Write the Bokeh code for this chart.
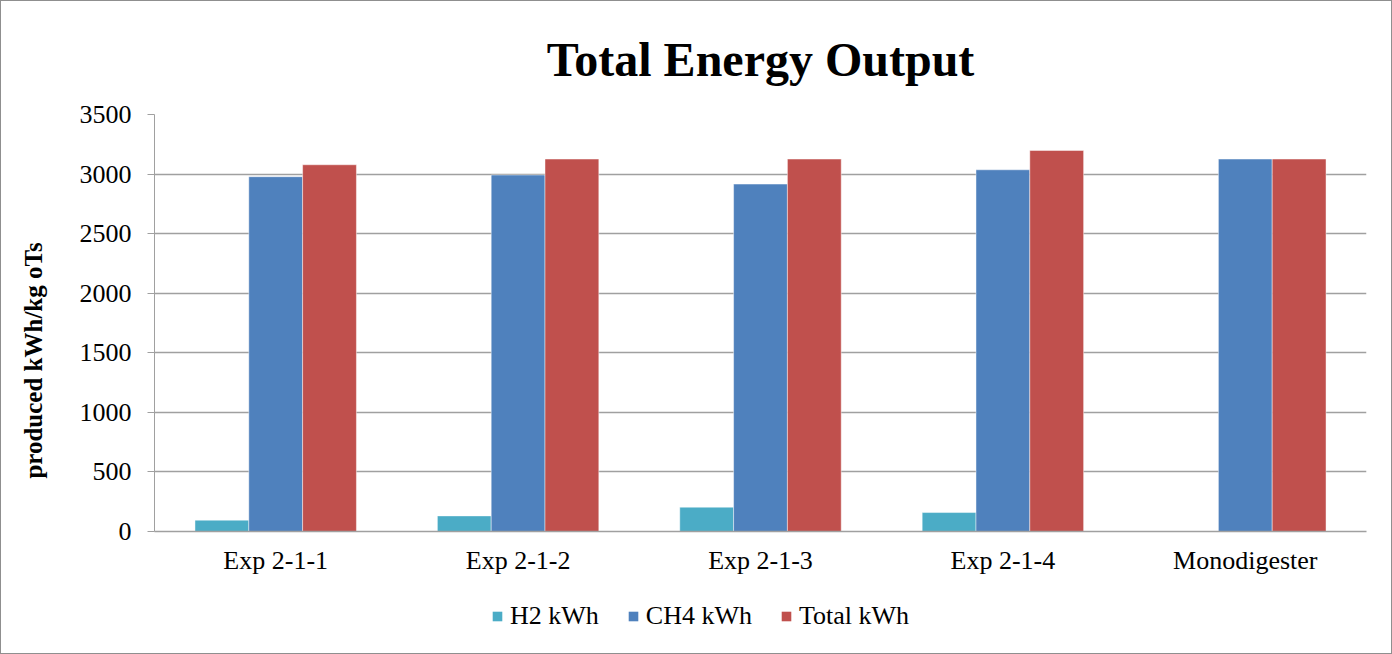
from bokeh.plotting import figure
from bokeh.layouts import column
from bokeh.models import ColumnDataSource, FactorRange, Range1d, Legend, LegendItem, Title, FixedTicker
from bokeh.transform import dodge
from bokeh.embed import file_html
from bokeh.resources import INLINE

categories = ["Exp 2-1-1", "Exp 2-1-2", "Exp 2-1-3", "Exp 2-1-4", "Monodigester"]
h2_kwh = [95, 131, 204, 159, 0]
ch4_kwh = [2978, 2992, 2916, 3036, 3126]
total_kwh = [3078, 3126, 3126, 3198, 3126]
series_names = ["H2 kWh", "CH4 kWh", "Total kWh"]
series_colors = ["#4BACC6", "#4F81BD", "#C0504D"]
y_ticks = [0, 500, 1000, 1500, 2000, 2500, 3000, 3500]

FONT = "Liberation Serif"

src = ColumnDataSource(dict(cat=categories, h2=h2_kwh, ch4=ch4_kwh, total=total_kwh))

p = figure(
    x_range=FactorRange(factors=categories, range_padding=0),
    y_range=Range1d(0, 3500),
    frame_width=1212, frame_height=417,
    output_backend="svg", toolbar_location=None,
    min_border_left=153, min_border_right=25, min_border_top=113, min_border_bottom=60,
)

bw = 0.222
fields = ["h2", "ch4", "total"]
offsets = [-bw, 0, bw]
for field, off, col in zip(fields, offsets, series_colors):
    p.vbar(x=dodge("cat", off, range=p.x_range), top=field, width=bw, source=src,
           fill_color=col, line_color="white", line_alpha=0.45, line_width=1)

p.outline_line_color = None
p.xgrid.grid_line_color = None
p.ygrid.grid_line_color = "#A0A0A0"
p.ygrid.grid_line_width = 1.4

p.yaxis.ticker = FixedTicker(ticks=y_ticks)
p.yaxis.axis_line_color = "#A0A0A0"
p.yaxis.major_tick_line_color = "#A0A0A0"
p.yaxis.major_tick_out = 7
p.yaxis.major_tick_in = 0
p.yaxis.minor_tick_line_color = None
p.yaxis.major_label_text_font = FONT
p.yaxis.major_label_text_font_size = "26px"
p.yaxis.major_label_text_color = "black"
p.yaxis.major_label_standoff = 16
p.yaxis.axis_label = "produced kWh/kg oTs" + "\u00a0" * 12
p.yaxis.axis_label_text_font = FONT
p.yaxis.axis_label_text_font_size = "25px"
p.yaxis.axis_label_text_font_style = "bold"
p.yaxis.axis_label_text_color = "black"
p.yaxis.axis_label_standoff = 30

p.xaxis.axis_line_color = "#A0A0A0"
p.xaxis.axis_line_width = 1.4
p.xaxis.major_tick_line_color = None
p.xaxis.minor_tick_line_color = None
p.xaxis.major_label_text_font = FONT
p.xaxis.major_label_text_font_size = "26px"
p.xaxis.major_label_text_color = "black"
p.xaxis.major_label_standoff = 8

title = Title(text="Total Energy Output", align="center", text_font=FONT,
              text_font_size="48px", text_font_style="bold", text_color="black",
              standoff=57)
p.add_layout(title, "above")

# legend strip below the chart
leg = figure(
    x_range=FactorRange(factors=categories, range_padding=0),
    y_range=Range1d(100000, 200000),
    width=1390, height=62, min_border=0,
    output_backend="svg", toolbar_location=None,
)
leg.outline_line_color = None
leg.axis.visible = False
leg.grid.grid_line_color = None
leg_renderers = []
for field, off, col in zip(fields, offsets, series_colors):
    r = leg.vbar(x=dodge("cat", off, range=leg.x_range), top=field, width=bw, source=src,
                 fill_color=col, line_color=None)
    leg_renderers.append(r)

legend = Legend(items=[LegendItem(label=n, renderers=[r]) for n, r in zip(series_names, leg_renderers)],
                orientation="horizontal", location=(337, 22),
                label_text_font=FONT, label_text_font_size="26px", label_text_color="black",
                glyph_width=12, glyph_height=12, spacing=28, label_standoff=7,
                border_line_color=None, background_fill_alpha=0, margin=0, padding=4)
leg.add_layout(legend, "center")

layout = column(p, leg, spacing=0, styles={"border": "1px solid #8f8f8f"})

open("out.html", "w").write(file_html(layout, INLINE))
